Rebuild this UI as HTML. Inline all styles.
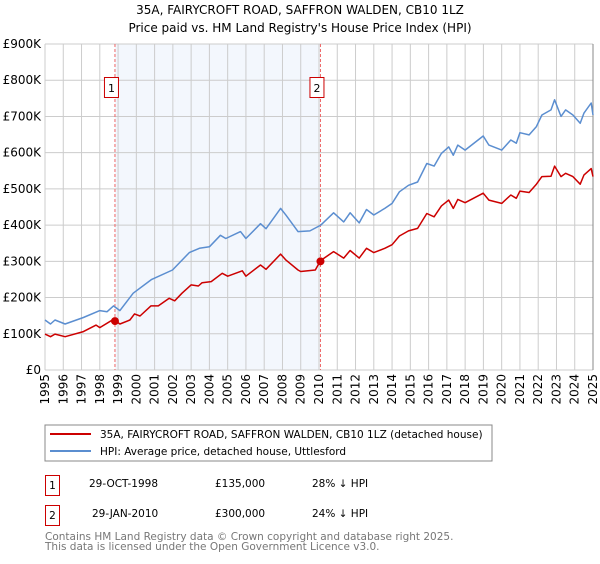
<!DOCTYPE html>
<html><head><meta charset="utf-8"><style>
body{margin:0;background:#fff;font-family:"DejaVu Sans","Liberation Sans",sans-serif;}
svg text{font-family:"DejaVu Sans","Liberation Sans",sans-serif;}
</style></head><body>
<svg id="chart" width="600" height="560" xmlns="http://www.w3.org/2000/svg">
<text x="300" y="14" text-anchor="middle" font-size="12">35A, FAIRYCROFT ROAD, SAFFRON WALDEN, CB10 1LZ</text>
<text x="300" y="32" text-anchor="middle" font-size="12">Price paid vs. HM Land Registry's House Price Index (HPI)</text>
<g id="plot"></g>
<rect x="45" y="425" width="447" height="36" fill="#fff" stroke="#888"/>
<line x1="50" y1="434" x2="91" y2="434" stroke="#cc0000" stroke-width="2"/>
<text x="100" y="438" font-size="10.5">35A, FAIRYCROFT ROAD, SAFFRON WALDEN, CB10 1LZ (detached house)</text>
<line x1="50" y1="451" x2="91" y2="451" stroke="#5b8ed0" stroke-width="2"/>
<text x="100" y="455" font-size="10.5">HPI: Average price, detached house, Uttlesford</text>
<g font-size="10.5">
<rect x="45.5" y="475.5" width="14" height="20" fill="none" stroke="#cc0000"/>
<text x="52.5" y="489" text-anchor="middle">1</text>
<text x="89" y="487">29-OCT-1998</text>
<text x="215" y="487">£135,000</text>
<text x="312" y="487">28% ↓ HPI</text>
<rect x="45.5" y="505.5" width="14" height="20" fill="none" stroke="#cc0000"/>
<text x="52.5" y="519" text-anchor="middle">2</text>
<text x="92" y="517">29-JAN-2010</text>
<text x="215" y="517">£300,000</text>
<text x="312" y="517">24% ↓ HPI</text>
</g>
<text x="45" y="540" font-size="10.5" fill="#777">Contains HM Land Registry data © Crown copyright and database right 2025.</text>
<text x="45" y="550" font-size="10.5" fill="#777">This data is licensed under the Open Government Licence v3.0.</text>
</svg>
<script>
const hpiYears=[1995,1995.3,1995.55,1996.1,1997.1,1998.0,1998.4,1998.75,1999.1,1999.83,2000.84,2001.98,2002.9,2003.45,2004.0,2004.6,2004.9,2005.7,2006.0,2006.8,2007.1,2007.9,2008.2,2008.85,2009.5,2010.1,2010.8,2011.35,2011.7,2012.2,2012.6,2013.0,2013.6,2014.0,2014.4,2014.9,2015.4,2015.9,2016.3,2016.7,2017.1,2017.35,2017.6,2018.0,2018.99,2019.3,2020.0,2020.5,2020.8,2021.0,2021.5,2021.9,2022.2,2022.7,2022.9,2023.25,2023.5,2023.9,2024.3,2024.5,2024.9,2025.0];
const hpiValues=[138,127,138,127,145,164,161,177,164,212,250,276,324,336,340,372,363,382,363,404,390,446,427,382,384,400,434,409,434,406,443,428,446,460,492,510,519,570,563,598,616,593,621,607,646,621,607,635,626,655,649,672,704,718,746,700,718,704,681,709,737,704];
const propYears=[1995,1995.3,1995.55,1996.1,1997.1,1997.8,1998.0,1998.75,1999.1,1999.65,1999.9,2000.2,2000.8,2001.2,2001.8,2002.1,2002.5,2003.0,2003.4,2003.6,2004.1,2004.7,2005.0,2005.8,2006.0,2006.8,2007.1,2007.9,2008.2,2008.85,2009.0,2009.8,2010.08,2010.8,2011.35,2011.7,2012.2,2012.6,2013.0,2013.6,2014.0,2014.4,2014.9,2015.4,2015.9,2016.3,2016.7,2017.1,2017.35,2017.6,2018.0,2018.99,2019.3,2020.0,2020.5,2020.8,2021.0,2021.5,2021.9,2022.2,2022.7,2022.9,2023.25,2023.5,2023.9,2024.3,2024.5,2024.9,2025.0];
const propValues=[99,92,99,92,106,124,117,140,127,138,155,149,177,177,198,191,212,235,232,241,244,267,259,274,259,290,278,320,303,276,272,276,302,327,309,330,309,336,324,336,346,370,384,391,432,423,453,469,446,471,462,488,469,460,483,474,494,490,513,534,535,563,534,543,534,513,538,556,534];
const saleYears=[1998.83,2010.08];
const saleValues=[135,300];
const saleLabels=["1","2"];
const yTicks=[0,100,200,300,400,500,600,700,800,900];
const yTickLabels=["£0","£100K","£200K","£300K","£400K","£500K","£600K","£700K","£800K","£900K"];
const xTicks=[1995,1996,1997,1998,1999,2000,2001,2002,2003,2004,2005,2006,2007,2008,2009,2010,2011,2012,2013,2014,2015,2016,2017,2018,2019,2020,2021,2022,2023,2024,2025];

const X0=45,X1=593,Y0=370,Y1=44;
const xs=y=>X0+(y-1995)/30*(X1-X0);
const ys=v=>Y0-v/900*(Y0-Y1);
const NS="http://www.w3.org/2000/svg";
const g=document.getElementById('plot');
function mk(t,a){const e=document.createElementNS(NS,t);for(const k in a)e.setAttribute(k,a[k]);g.appendChild(e);return e;}
let e;
e=mk('rect',{x:xs(saleYears[0]),y:Y1,width:xs(saleYears[1])-xs(saleYears[0]),height:Y0-Y1,fill:'#eef3fc',opacity:0.7});


yTicks.forEach((t,i)=>{
 e=mk('line',{x1:X0,x2:X1,y1:ys(t),y2:ys(t),stroke:'#ccc'});
 
 
 e=mk('text',{x:X0-4,y:ys(t)+4,'text-anchor':'end','font-size':12});
 e.textContent=yTickLabels[i];
 
 
});
xTicks.forEach(t=>{
 e=mk('line',{x1:xs(t),x2:xs(t),y1:Y1,y2:Y0,stroke:'#ccc'});
 
 
 e=mk('text',{x:0,y:0,'text-anchor':'end','font-size':12,transform:`translate(${xs(t)+4},374) rotate(-90)`});
 e.textContent=t;
 
 
});
e=mk('line',{x1:X1,x2:X1,y1:Y1,y2:Y0,stroke:'#888'});


saleYears.forEach((s,i)=>{
 e=mk('line',{x1:xs(s),x2:xs(s),y1:Y1,y2:Y0,stroke:'#e66','stroke-dasharray':'3,2'});
 
 
});
function path(xa,va,col,name){
 const d=xa.map((x,i)=>(i?'L':'M')+xs(x).toFixed(1)+','+ys(va[i]).toFixed(1)).join('');
 e=mk('path',{d:d,fill:'none',stroke:col,'stroke-width':1.5,'stroke-linejoin':'round'});
 
 
}
path(hpiYears,hpiValues,'#5b8ed0','hpi-line');
path(propYears,propValues,'#cc0000','property-line');
saleYears.forEach((s,i)=>{
 e=mk('circle',{cx:xs(s),cy:ys(saleValues[i]),r:4,fill:'#cc0000'});
 
 
 e=mk('rect',{x:xs(s)-10.5,y:77.5,width:14,height:20,fill:'#fff',stroke:'#cc0000'});
 
 
 e=mk('text',{x:xs(s)-3.5,y:92,'text-anchor':'middle','font-size':11});
 e.textContent=saleLabels[i];
 
 
});
</script>
</body></html>
